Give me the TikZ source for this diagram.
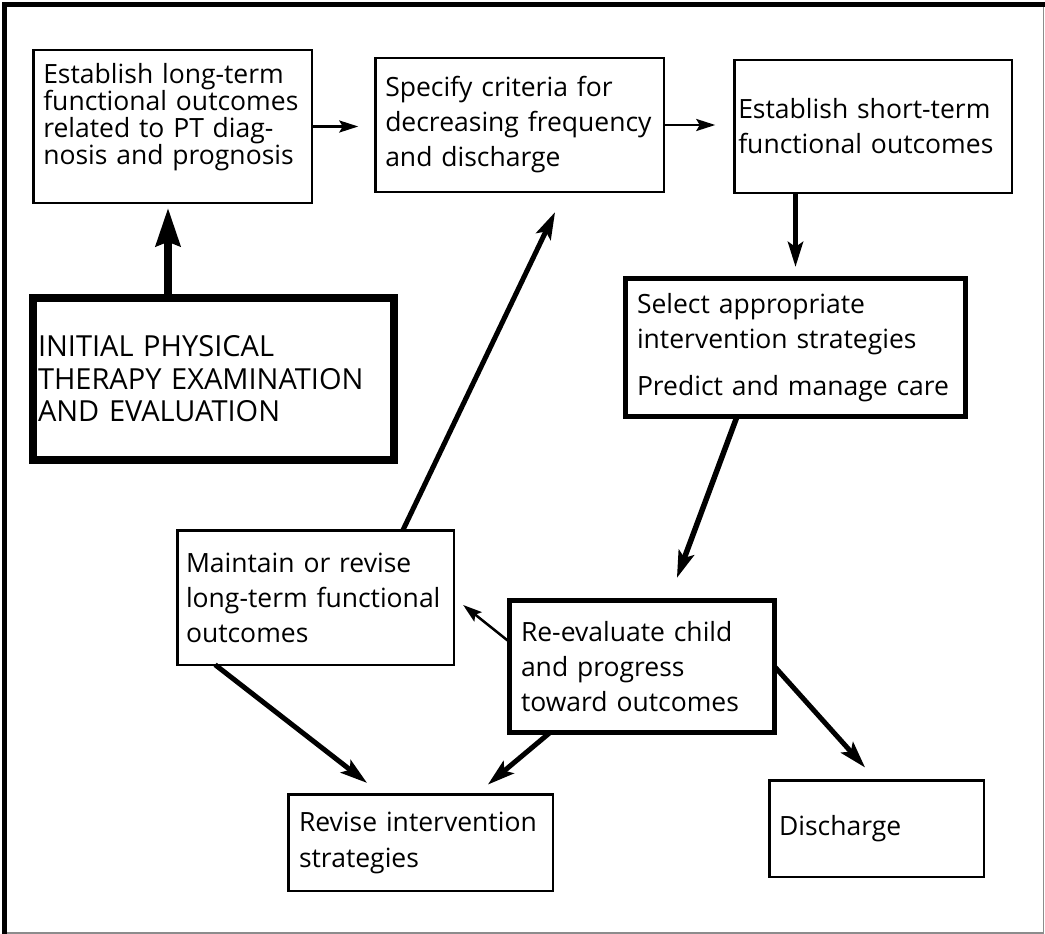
\documentclass[tikz,border=0pt]{standalone}
\usepackage{fontspec}
\setmainfont{Open Sans}
\usetikzlibrary{arrows.meta,calc}

\begin{document}
\begin{tikzpicture}[x=1pt,y=-1pt,
  box/.style={draw=black, rectangle, line width=2.5pt, align=left,
    inner ysep=0pt, outer sep=0pt,
    font=\fontsize{26.5}{35}\selectfont},
  boldbox/.style={box, line width=5pt},
  heavybox/.style={box, line width=8pt},
  thinarrow/.style={line width=2.5pt, -{Stealth[length=19pt,width=12pt,inset=3.5pt]}},
  midarrow/.style={line width=5pt, -{Stealth[length=27pt,width=16pt,inset=5.5pt]}},
  heavyarrow/.style={line width=8pt, -{Stealth[length=38pt,width=24pt,inset=4pt]}}
]
\useasboundingbox (0,0) rectangle (1045,934);

% outer frame: thin grey on the right and bottom, heavy black on top and left
\draw[black!45, line width=1.2pt] (4.5,5) rectangle (1043.5,933);
\draw[line width=5pt] (4.5,933.5) -- (4.5,5) -- (1045,5);

% boxes
\node[box, minimum width=278.5pt, minimum height=152.5pt, text width=258.5pt,
      inner xsep=10pt, font=\fontsize{26.5}{27}\selectfont]
  (A) at (172.5,126.5)
  {Establish~long-term\\functional~outcomes\\related~to~PT~diag-\\nosis~and~prognosis\rule[-25pt]{0pt}{25pt}};

\node[box, minimum width=288.5pt, minimum height=133.5pt, text width=268.5pt,
      inner xsep=10pt]
  (B) at (519.5,125)
  {Specify~criteria~for\\decreasing~frequency\\and~discharge};

\node[box, minimum width=277.5pt, minimum height=132.5pt, text width=269.5pt,
      inner xsep=4pt]
  (C) at (873,126.5)
  {Establish~short-term\\functional~outcomes};

\node[boldbox, minimum width=340pt, minimum height=138pt, text width=317pt,
      inner xsep=11.5pt]
  (D) at (795.5,347.5)
  {Select~appropriate\\intervention~strategies\\[12pt]Predict~and~manage~care};

\node[heavybox, minimum width=361pt, minimum height=162pt, text width=351pt,
      inner xsep=5pt, font=\fontsize{29}{32.5}\selectfont]
  (E) at (213.5,379)
  {INITIAL~PHYSICAL\\THERAPY~EXAMINATION\\AND~EVALUATION};

\node[boldbox, minimum width=265pt, minimum height=132pt, text width=242pt,
      inner xsep=11.5pt]
  (F) at (642,666.5)
  {Re-evaluate~child\\and~progress\\toward~outcomes};

\node[box, minimum width=276.5pt, minimum height=134.5pt, text width=259pt,
      inner xsep=8.75pt]
  (G) at (315.5,597.5)
  {Maintain~or~revise\\long-term~functional\\outcomes};

\node[box, minimum width=264.5pt, minimum height=96.5pt, text width=243pt,
      inner xsep=10.75pt, font=\fontsize{26.5}{36}\selectfont]
  (H) at (420.5,842.5)
  {Revise~intervention\\strategies};

\node[box, minimum width=214.5pt, minimum height=96.5pt, text width=195pt,
      inner xsep=9.75pt]
  (I) at (876.5,828.5)
  {Discharge};

% connectors
\draw[thinarrow, shorten >=17pt] (A.east) -- (A.east -| B.west);
\draw[thinarrow, shorten >=19pt] (B.east) -- (B.east -| C.west);

\coordinate (e1) at ($(E.north west)!0.374!(E.north east)$);
\draw[heavyarrow, shorten >=5pt] (e1) -- (e1 |- A.south);

\draw[line width=5.5pt, -{Stealth[length=25pt,width=15pt,inset=5pt]}, shorten >=11.5pt]
  (D.north |- C.south) -- (D.north);

\draw[midarrow, line width=5.5pt, shorten >=24pt]
  ($(D.south west)!0.328!(D.south east)$) -- ($(F.north west)!0.60!(F.north east)$);

\draw[midarrow, shorten >=22.5pt]
  ($(G.north west)!0.816!(G.north east)$) -- ($(B.south west)!0.657!(B.south east)$);

\draw[thinarrow, shorten >=12pt]
  ($(F.north west)!0.314!(F.south west)$) -- (G.east);

\draw[midarrow, shorten >=18.4pt]
  ($(G.south west)!0.137!(G.south east)$) -- ($(H.north west)!0.353!(H.north east)$);

\draw[midarrow, shorten >=15pt]
  ($(F.south west)!0.153!(F.south east)$) -- ($(H.north west)!0.711!(H.north east)$);

\draw[midarrow, shorten >=17pt] (F.east) -- (I.north);
\end{tikzpicture}
\end{document}
